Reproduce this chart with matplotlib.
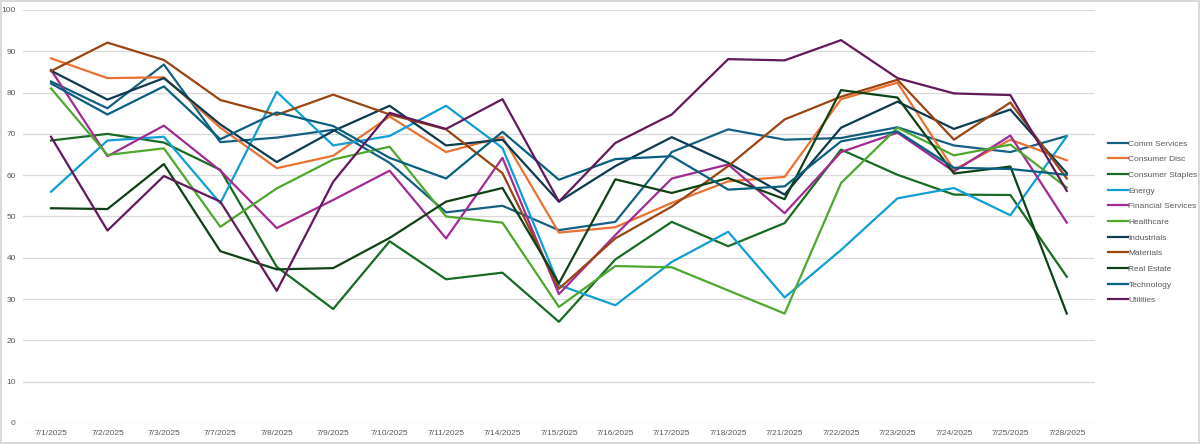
import matplotlib
matplotlib.use("Agg")
import matplotlib.pyplot as plt

# fechas (eje de categorías)
dates = ["7/1/2025", "7/2/2025", "7/3/2025", "7/7/2025", "7/8/2025", "7/9/2025",
         "7/10/2025", "7/11/2025", "7/14/2025", "7/15/2025", "7/16/2025", "7/17/2025",
         "7/18/2025", "7/21/2025", "7/22/2025", "7/23/2025", "7/24/2025", "7/25/2025",
         "7/28/2025"]

# valores por sector
comm_services = [82.7, 76.2, 86.8, 68.0, 69.1, 71.0, 63.0, 51.0, 52.6, 46.7,
                 48.7, 65.6, 71.1, 68.6, 69.0, 71.6, 67.2, 65.6, 69.5]
consumer_disc = [88.3, 83.5, 83.7, 71.5, 61.7, 64.7, 74.2, 65.6, 69.3, 46.1,
                 47.4, 53.3, 58.5, 59.6, 78.4, 82.4, 61.3, 68.6, 63.6]
consumer_staples = [68.4, 70.0, 67.9, 61.3, 37.8, 27.6, 44.0, 34.8, 36.4, 24.5,
                    39.6, 48.7, 42.8, 48.4, 66.2, 60.1, 55.3, 55.2, 35.4]
energy = [56.0, 68.4, 69.3, 53.2, 80.2, 67.2, 69.5, 76.8, 66.6, 33.4,
          28.5, 39.0, 46.3, 30.4, 41.9, 54.4, 56.9, 50.3, 69.4]
financial = [85.5, 64.6, 72.0, 61.1, 47.2, 54.0, 61.1, 44.7, 64.2, 31.2,
             45.5, 59.2, 62.6, 50.8, 65.6, 70.3, 60.9, 69.6, 48.5]
healthcare = [81.0, 64.9, 66.5, 47.5, 56.8, 63.8, 66.9, 50.0, 48.5, 28.1,
              38.0, 37.7, 32.1, 26.5, 58.1, 71.5, 64.8, 67.4, 57.0]
industrials = [85.3, 78.3, 83.5, 72.3, 63.2, 70.7, 76.8, 67.2, 68.6, 53.6,
               62.2, 69.2, 63.0, 55.3, 71.5, 77.8, 71.2, 75.9, 60.5]
materials = [85.2, 92.1, 87.9, 78.2, 74.6, 79.5, 74.7, 71.1, 60.5, 32.5,
             44.7, 52.4, 62.2, 73.5, 79.0, 83.1, 68.6, 77.6, 59.2]
real_estate = [52.0, 51.8, 62.7, 41.6, 37.2, 37.5, 44.8, 53.6, 56.9, 33.8,
               59.0, 55.7, 59.3, 54.2, 80.6, 78.8, 60.4, 62.1, 26.5]
technology = [82.2, 74.7, 81.5, 68.7, 75.2, 71.9, 64.2, 59.2, 70.5, 58.9,
              63.9, 64.6, 56.5, 57.3, 68.2, 70.6, 61.8, 61.5, 60.1]
utilities = [69.3, 46.6, 59.8, 53.6, 32.0, 58.4, 75.1, 71.2, 78.4, 53.6,
             67.8, 74.7, 88.1, 87.8, 92.7, 83.5, 79.8, 79.4, 56.2]

series = [
    ("Comm Services", comm_services, "#156082"),
    ("Consumer Disc", consumer_disc, "#E97132"),
    ("Consumer Staples", consumer_staples, "#196B24"),
    ("Energy", energy, "#0F9ED5"),
    ("Financial Services", financial, "#A02B93"),
    ("Healthcare", healthcare, "#4EA72E"),
    ("Industrials", industrials, "#0D3A4E"),
    ("Materials", materials, "#9A4412"),
    ("Real Estate", real_estate, "#0F4116"),
    ("Technology", technology, "#095F80"),
    ("Utilities", utilities, "#611A59"),
]

plt.rcParams["font.family"] = ["Liberation Sans", "DejaVu Sans"]

fig = plt.figure(figsize=(12, 4.44), dpi=100)
fig.patch.set_edgecolor("#d9d9d9")
fig.patch.set_linewidth(1.5)
ax = fig.add_axes([0.019, 0.0473, 0.8935, 0.9302])

x = list(range(len(dates)))
for name, vals, color in series:
    ax.plot(x, vals, color=color, lw=1.6, label=name)

ax.set_xlim(-0.5, len(dates) - 0.5)
ax.set_ylim(0, 100)
ax.set_yticks(range(0, 101, 10))
ax.set_xticks(x)
ax.set_xticklabels(dates)
ax.tick_params(length=0, labelsize=6, colors="#595959", pad=5)
ax.grid(axis="y", color="#d9d9d9", lw=0.9)
ax.set_axisbelow(True)
for s in ax.spines.values():
    s.set_visible(False)

fig.legend(loc="center left", bbox_to_anchor=(0.923, 0.5), frameon=False,
           fontsize=6, handlelength=2.4, handletextpad=0.1, labelspacing=0.94,
           borderpad=0, borderaxespad=0, labelcolor="#595959")

fig.savefig("out.png", dpi=100)
